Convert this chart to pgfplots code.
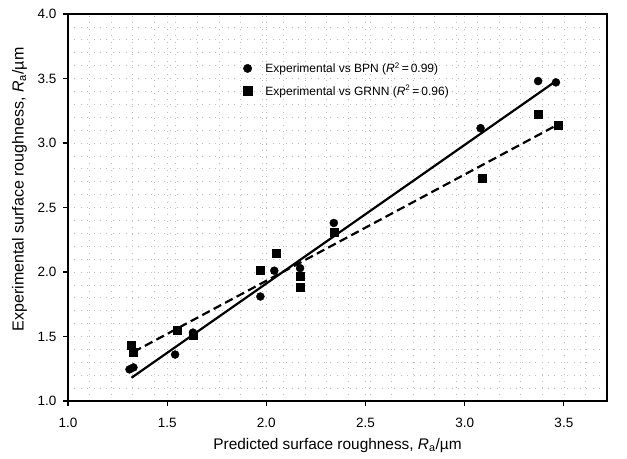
\documentclass[border=0pt]{standalone}
\usepackage{pgfplots}
\pgfplotsset{compat=1.18}
\usepackage{fontspec}
\setmainfont{Liberation Sans}

\begin{document}
\begin{tikzpicture}
  \begin{axis}[
      scale only axis,
      width=539pt, height=387pt,
      xmin=1, xmax=3.7174,
      ymin=1, ymax=4,
      xtick={1,1.5,...,3.5},
      ytick={1,1.5,...,4},
      minor xtick={1.1087,1.2174,...,3.65},
      minor ytick={1.1,1.2,...,3.95},
      tick pos=left,
      tick align=outside,
      major tick length=5pt,
      minor tick length=0pt,
      axis line style={line width=1.4pt},
      every tick/.style={line width=1.2pt, black},
      grid=both,
      major grid style={gray!50, line width=0.7pt, dash pattern=on 0.9pt off 5.5pt},
      minor grid style={gray!50, line width=0.7pt, dash pattern=on 0.9pt off 5.5pt},
      /pgf/number format/.cd, fixed, fixed zerofill, precision=1, assume math mode=true,
      /pgfplots/.cd,
      ticklabel style={font=\fontsize{13.5}{15}\selectfont},
      xticklabel style={yshift=-9pt},
      yticklabel style={xshift=-3pt},
      xlabel={Predicted surface roughness, \textit{R}\textsubscript{a}/µm},
      ylabel={Experimental surface roughness, \textit{R}\textsubscript{a}/µm},
      xlabel style={font=\fontsize{15.4}{17}\selectfont,
        at={(axis description cs:0.5,-0.115)}, anchor=center},
      ylabel style={font=\fontsize{16}{18}\selectfont,
        at={(axis description cs:-0.09,0.547)}, anchor=center},
      legend style={at={(0.319,0.885)}, anchor=north west, draw=none, fill=none,
        font=\fontsize{12}{14}\selectfont, row sep=7pt},
      legend cell align=left,
      legend image code/.code={%
        \path (-0.15cm,0cm) (0.55cm,0cm);
        \draw[#1, mark size=4.2pt] plot coordinates {(0cm,0cm)};},
    ]
    % fitted lines
    \addplot[black, line width=2.2pt, forget plot] coordinates {(1.32,1.18) (3.46,3.48)};
    \addplot[black, line width=2.2pt, dash pattern=on 8.5pt off 4.5pt, forget plot]
      coordinates {(1.33,1.38) (3.46,3.135)};
    % BPN
    \addplot[only marks, mark=*, mark size=4pt, black] coordinates {
      (1.31,1.245) (1.33,1.26) (1.54,1.36) (1.63,1.53) (1.97,1.81) (2.04,2.01)
      (2.17,2.03) (2.34,2.38) (3.08,3.115) (3.37,3.48) (3.46,3.47)
    };
    \addlegendentry{Experimental vs BPN (\textit{R}\textsuperscript{2}\,=\,0.99)}
    % GRNN
    \addplot[only marks, mark=square*, mark size=4pt, black] coordinates {
      (1.32,1.43) (1.33,1.38) (1.55,1.545) (1.63,1.51) (1.97,2.015) (2.05,2.145)
      (2.17,1.97) (2.17,1.88) (2.34,2.31) (3.09,2.725) (3.37,3.22) (3.47,3.135)
    };
    \addlegendentry{Experimental vs GRNN (\textit{R}\textsuperscript{2}\,=\,0.96)}
  \end{axis}
  \path ([xshift=-68pt,yshift=-58pt]current axis.south west)
    rectangle ([xshift=20pt,yshift=14pt]current axis.north east);
\end{tikzpicture}
\end{document}
